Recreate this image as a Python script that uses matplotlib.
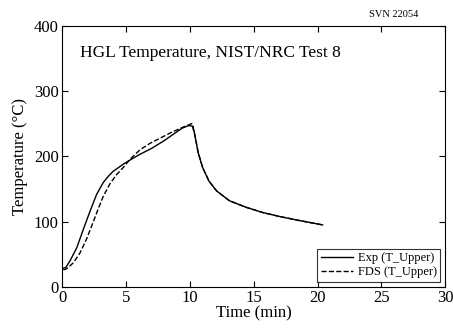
import numpy as np
import matplotlib
matplotlib.use('Agg')
import matplotlib.pyplot as plt

plt.rcParams['font.family'] = ['Liberation Serif', 'DejaVu Serif']

# experimental upper layer temperature
t_exp = [0.0, 0.3, 0.62, 1.15, 1.66, 2.19, 2.71, 3.23, 3.6, 4.0, 4.8, 5.3, 6.0,
         7.0, 8.0, 8.8, 9.4, 9.9, 10.25, 10.4, 10.65, 11.0, 11.5, 12.1, 13.1,
         14.4, 15.7, 17.0, 18.5, 20.4]
T_exp = [28, 30, 40, 60, 88, 116, 142, 160, 169, 177, 188, 194, 202,
         212, 224, 235, 243, 247, 246, 232, 206, 183, 162, 147, 132,
         122, 114, 108, 102, 95]

# FDS prediction
t_fds = [0.1, 0.37, 0.88, 1.4, 1.93, 2.45, 2.84, 3.23, 3.75, 4.27, 4.8, 5.3, 6.1,
         6.9, 7.8, 8.6, 9.4, 10.15, 10.4, 10.65, 11.0, 11.5, 12.1, 13.1, 14.4,
         15.7, 17.0, 18.5, 20.4]
T_fds = [26, 28, 37, 52, 74, 100, 120, 139, 158, 172, 183, 195, 210,
         220, 229, 237, 244, 250, 232, 206, 183, 162, 147, 132, 122,
         114, 108, 102, 95]

fig = plt.figure(figsize=(4.53, 3.28), dpi=100)
ax = fig.add_axes([0.137, 0.125, 0.846, 0.797])

ax.plot(t_exp, T_exp, 'k-', lw=1.0, label='Exp (T_Upper)')
ax.plot(t_fds, T_fds, 'k--', lw=1.0, label='FDS (T_Upper)')

ax.set_xlim(0, 30)
ax.set_ylim(0, 400)
ax.set_xticks([0, 5, 10, 15, 20, 25, 30])
ax.set_yticks([0, 100, 200, 300, 400])
ax.tick_params(direction='in', top=True, right=True, labelsize=12, length=4, pad=2.5)
for s in ax.spines.values():
    s.set_linewidth(0.8)

ax.set_xlabel('Time (min)', fontsize=12, labelpad=-1)
ax.set_ylabel('Temperature (°C)', fontsize=12, labelpad=4)

ax.text(0.047, 0.896, 'HGL Temperature, NIST/NRC Test 8', transform=ax.transAxes,
        fontsize=12.5, va='center', ha='left')
fig.text(0.923, 0.957, 'SVN 22054', fontsize=7.5, ha='right', va='center')

leg = ax.legend(loc='lower right', fontsize=9, frameon=True, fancybox=False,
                borderaxespad=0.4, handlelength=2.6, handletextpad=0.35,
                borderpad=0.3, labelspacing=0.15)
leg.get_frame().set_edgecolor('black')
leg.get_frame().set_linewidth(0.8)

fig.savefig('out.png', dpi=100)
